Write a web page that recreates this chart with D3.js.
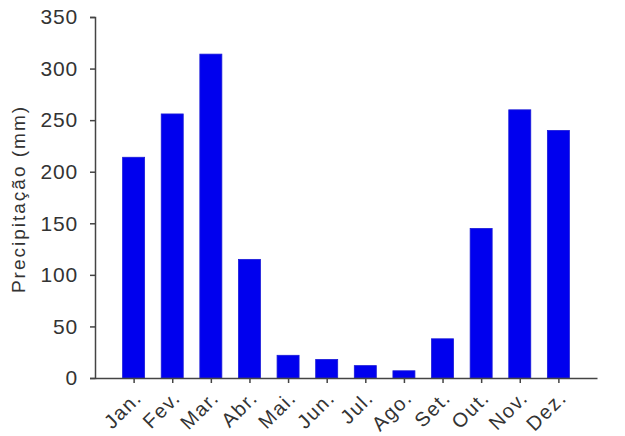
<!DOCTYPE html>
<html><head><meta charset="utf-8">
<script src="https://cdn.jsdelivr.net/npm/d3@7"></script>
<style>body{margin:0;background:#fff;}text{font-family:"Liberation Sans",Arial,sans-serif;}</style>
</head><body><svg id="c" width="625" height="436"></svg>
<script>
const months = ["Jan.","Fev.","Mar.","Abr.","Mai.","Jun.","Jul.","Ago.","Set.","Out.","Nov.","Dez."];
const precip = [214,256,314,115,22,18,12,7,38,145,260,240];
const yTicks = [0,50,100,150,200,250,300,350];

const svg = d3.select("#c");
const x = d3.scalePoint().domain(months).range([95,597]).padding(1);
const y = d3.scaleLinear().domain([0,350]).range([378,17]);
const bw = 22;

svg.selectAll("rect.bar").data(months).join("rect")
  .attr("class","bar")
  .attr("x",(d)=>x(d)-bw/2)
  .attr("y",(d,i)=>y(precip[i]))
  .attr("width",bw)
  .attr("height",(d,i)=>y(0)-y(precip[i]))
  .attr("fill","#0000ee")
  .attr("stroke","#1a1ad8").attr("stroke-width",0.8);

const yAx = svg.append("g").attr("transform","translate(95,0)")
  .call(d3.axisLeft(y).tickValues(yTicks).tickSize(5).tickPadding(12));
yAx.select(".domain").attr("stroke","#444").attr("stroke-width",1.5);
yAx.selectAll(".tick line").attr("stroke","#444").attr("stroke-width",1.5);
yAx.selectAll(".tick text").attr("font-size",21).attr("fill","#333").attr("letter-spacing",0.8);

const xAx = svg.append("g").attr("transform","translate(0,378)")
  .call(d3.axisBottom(x).tickSize(5).tickSizeOuter(0));
xAx.select(".domain").attr("stroke","#444").attr("stroke-width",1.5);
xAx.selectAll(".tick line").attr("stroke","#444").attr("stroke-width",1.5);
xAx.selectAll(".tick text").attr("font-size",20).attr("fill","#333")
  .attr("letter-spacing",1.5)
  .attr("text-anchor","end").attr("dy",0).attr("y",0)
  .attr("transform","translate(9,21) rotate(-45)");

svg.append("text").attr("transform","translate(25,199) rotate(-90)")
  .attr("text-anchor","middle").attr("font-size",19).attr("fill","#333")
  .attr("letter-spacing",2)
  .text("Precipitação (mm)");
</script></body></html>
